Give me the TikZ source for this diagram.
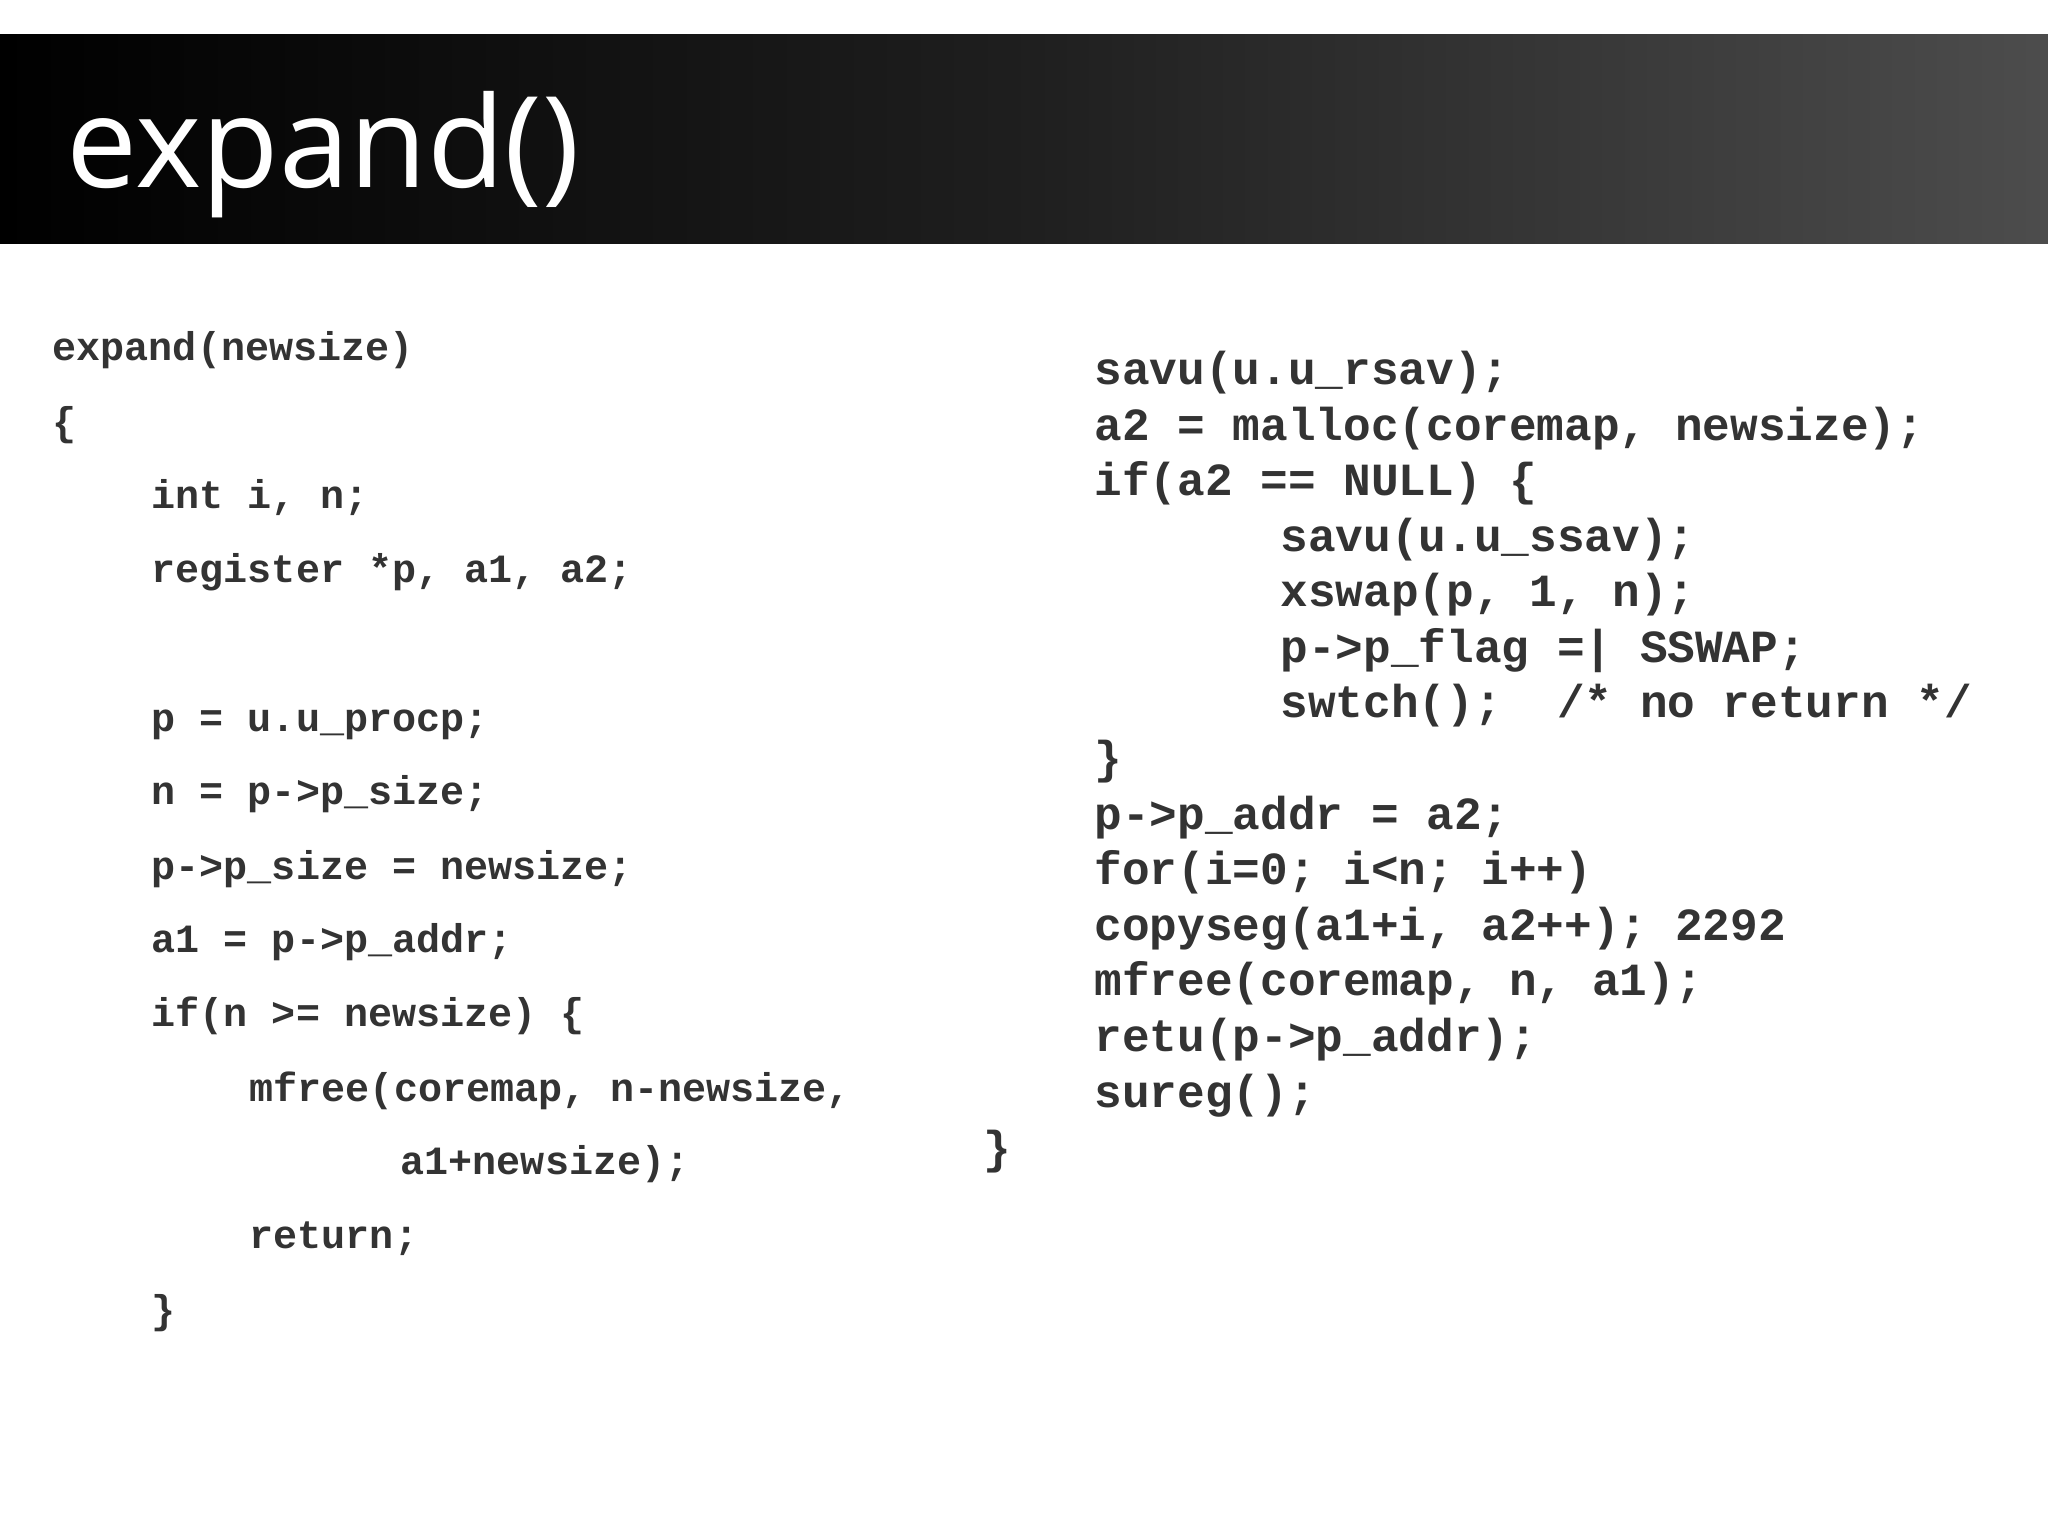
\documentclass[tikz,border=0pt]{standalone}
\usepackage{fontspec}
\setmainfont{Open Sans}
\setmonofont{Liberation Mono}
\begin{document}
\begin{tikzpicture}[x=0.01cm,y=-0.01cm,
  lc/.style={anchor=base west,inner sep=0pt,text=black!80,font=\fontsize{11.4}{13}\selectfont\ttfamily\bfseries},
  rc/.style={anchor=base west,inner sep=0pt,text=black!80,font=\fontsize{13.1}{15}\selectfont\ttfamily\bfseries}]
\useasboundingbox (0,0) rectangle (2048,1535);
\fill[white] (0,0) rectangle (2048,1535);
\shade[left color=black, right color=black!70, middle color=black!88] (0,34) rectangle (2048,243);
\node[anchor=base west,inner sep=0pt,text=white,font=\fontsize{36}{40}\selectfont] (title) at (66,187) {expand()};
% left column
\node[lc] (l1) at (52,360) {expand(newsize)};
\node[lc] (l2) at (52,435) {\{};
\node[lc] (l3) at (151,508) {int i, n;};
\node[lc] (l4) at (151,582) {register *p, a1, a2;};
\node[lc] (l5) at (151,731) {p = u.u\_procp;};
\node[lc] (l6) at (151,804) {n = p->p\_size;};
\node[lc] (l7) at (151,879) {p->p\_size = newsize;};
\node[lc] (l8) at (151,952) {a1 = p->p\_addr;};
\node[lc] (l9) at (151,1026) {if(n >= newsize) \{};
\node[lc] (l10) at (249,1101) {mfree(coremap, n-newsize,};
\node[lc] (l11) at (400,1174) {a1+newsize);};
\node[lc] (l12) at (249,1248) {return;};
\node[lc] (l13) at (151,1323) {\}};
% right column
\node[rc] (r1) at (1094,384) {savu(u.u\_rsav);};
\node[rc] (r2) at (1094,440) {a2 = malloc(coremap, newsize);};
\node[rc] (r3) at (1094,495) {if(a2 == NULL) \{};
\node[rc] (r4) at (1280,551) {savu(u.u\_ssav);};
\node[rc] (r5) at (1280,606) {xswap(p, 1, n);};
\node[rc] (r6) at (1280,662) {p->p\_flag =| SSWAP;};
\node[rc] (r7) at (1280,717) {swtch();\ \ /* no return */};
\node[rc] (r8) at (1094,773) {\}};
\node[rc] (r9) at (1094,829) {p->p\_addr = a2;};
\node[rc] (r10) at (1094,884) {for(i=0; i<n; i++)};
\node[rc] (r11) at (1094,940) {copyseg(a1+i, a2++); 2292};
\node[rc] (r12) at (1094,995) {mfree(coremap, n, a1);};
\node[rc] (r13) at (1094,1051) {retu(p->p\_addr);};
\node[rc] (r14) at (1094,1107) {sureg();};
\node[rc] (r15) at (983,1163) {\}};
\end{tikzpicture}
\end{document}
